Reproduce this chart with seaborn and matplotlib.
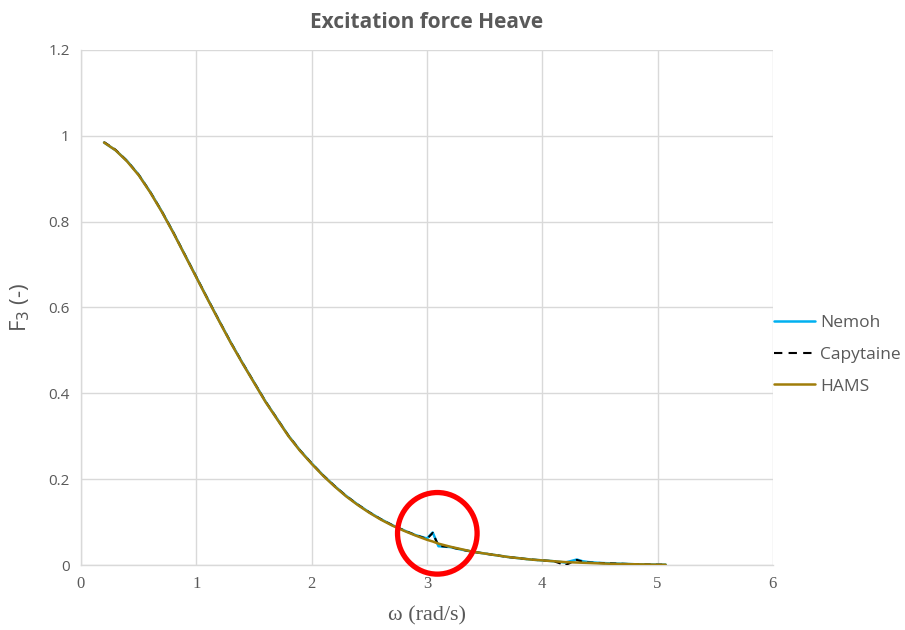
import numpy as np
import pandas as pd
import matplotlib
matplotlib.use("Agg")
import matplotlib.pyplot as plt
from matplotlib.patches import Ellipse
import seaborn as sns

# frequencies (rad/s)
omega = [0.2, 0.3, 0.4, 0.5, 0.6, 0.7, 0.8, 0.9, 1.0, 1.1, 1.2, 1.3, 1.4, 1.5,
         1.6, 1.7, 1.8, 1.9, 2.0, 2.1, 2.2, 2.3, 2.4, 2.5, 2.6, 2.7, 2.8, 2.9,
         3.0, 3.05, 3.1, 3.2, 3.3, 3.4, 3.5, 3.6, 3.7, 3.8, 3.9, 4.0, 4.1,
         4.2, 4.3, 4.35, 4.4, 4.5, 4.6, 4.7, 4.8, 4.9, 5.0, 5.07]

hams = [0.984, 0.966, 0.940, 0.908, 0.868, 0.823, 0.774, 0.722, 0.670, 0.618,
        0.567, 0.517, 0.470, 0.425, 0.380, 0.340, 0.300, 0.266, 0.236, 0.208,
        0.183, 0.160, 0.140, 0.122, 0.106, 0.092, 0.080, 0.069, 0.059, 0.055,
        0.050, 0.043, 0.037, 0.031, 0.027, 0.023, 0.019, 0.016, 0.013, 0.011,
        0.009, 0.007, 0.006, 0.0055, 0.005, 0.004, 0.003, 0.0025, 0.002,
        0.0015, 0.001, 0.001]

nemoh = [0.984, 0.966, 0.941, 0.909, 0.869, 0.824, 0.775, 0.723, 0.671, 0.619,
         0.568, 0.518, 0.471, 0.426, 0.381, 0.341, 0.301, 0.267, 0.237, 0.209,
         0.184, 0.161, 0.141, 0.123, 0.107, 0.093, 0.081, 0.070, 0.062, 0.076,
         0.044, 0.042, 0.036, 0.031, 0.027, 0.023, 0.019, 0.016, 0.013, 0.011,
         0.009, 0.006, 0.013, 0.009, 0.007, 0.005, 0.004, 0.003, 0.002,
         0.0015, 0.001, 0.001]

capytaine = [0.985, 0.967, 0.941, 0.909, 0.869, 0.824, 0.775, 0.723, 0.671, 0.619,
             0.568, 0.518, 0.471, 0.426, 0.381, 0.341, 0.301, 0.267, 0.237, 0.209,
             0.184, 0.161, 0.141, 0.123, 0.107, 0.093, 0.081, 0.070, 0.061, 0.075,
             0.045, 0.042, 0.036, 0.031, 0.027, 0.023, 0.019, 0.016, 0.013, 0.011,
             0.009, 0.000, 0.012, 0.008, 0.006, 0.005, 0.004, 0.003, 0.002,
             0.0015, 0.001, 0.001]

x_ticks = [0, 1, 2, 3, 4, 5, 6]
y_ticks = [0, 0.2, 0.4, 0.6, 0.8, 1, 1.2]

gray = "#595959"
grid_gray = "#d9d9d9"

sns.set_theme(style="white")
plt.rcParams["font.family"] = ["Open Sans", "DejaVu Sans"]

fig = plt.figure(figsize=(9.05, 6.3), dpi=100)
ax = fig.add_axes([0.0895, 0.103, 0.7645, 0.818])

sns.lineplot(x=omega, y=nemoh, ax=ax, color="#00b0f0", linewidth=1.8, label="Nemoh", zorder=2)
sns.lineplot(x=omega, y=capytaine, ax=ax, color="black", linewidth=1.5,
             linestyle=(0, (3, 2.5)), label="Capytaine", zorder=3)
sns.lineplot(x=omega, y=hams, ax=ax, color="#a07d0a", linewidth=1.8, label="HAMS", zorder=4)

ax.set_xlim(0, 6)
ax.set_ylim(0, 1.2)
ax.set_xticks(x_ticks)
ax.set_yticks(y_ticks)
ax.set_xticklabels([str(t) for t in x_ticks], family=["Liberation Serif"], fontsize=12, color=gray)
ax.set_yticklabels(["0", "0.2", "0.4", "0.6", "0.8", "1", "1.2"], fontsize=11, color=gray)
ax.tick_params(length=0, pad=8)
ax.grid(True, color=grid_gray, linewidth=1)
for s in ["top", "right"]:
    ax.spines[s].set_visible(False)
for s in ["left", "bottom"]:
    ax.spines[s].set_color(grid_gray)
    ax.spines[s].set_linewidth(1)

ax.set_xlabel("ω (rad/s)", family=["Liberation Serif"], fontsize=16, color=gray, labelpad=10)
ax.set_ylabel("F$_3$ (-)", fontsize=16, color=gray, labelpad=12)
ax.set_title("Excitation force Heave", fontsize=15, fontweight="bold", color=gray, pad=16)

# red circle marking the spike in the Nemoh / Capytaine results
peak = int(np.argmax(np.array(nemoh) - np.array(hams)))
circ = Ellipse((omega[peak] + 0.04, nemoh[peak] - 0.002), width=0.69, height=0.19,
               fill=False, edgecolor="#ff0000", linewidth=3.8, clip_on=False, zorder=5)
ax.add_patch(circ)

handles, labels = ax.get_legend_handles_labels()
order = [labels.index(n) for n in ["Nemoh", "Capytaine", "HAMS"]]
leg = ax.legend([handles[i] for i in order], [labels[i] for i in order],
                loc="center left", bbox_to_anchor=(0.855, 0.437), bbox_transform=fig.transFigure,
                frameon=False, fontsize=12.5, labelcolor=gray, handlelength=2.4,
                handletextpad=0.25, labelspacing=0.9, borderpad=0, borderaxespad=0)
leg.legend_handles[1].set_linestyle((0, (4, 3)))

fig.savefig("out.png", dpi=100)
